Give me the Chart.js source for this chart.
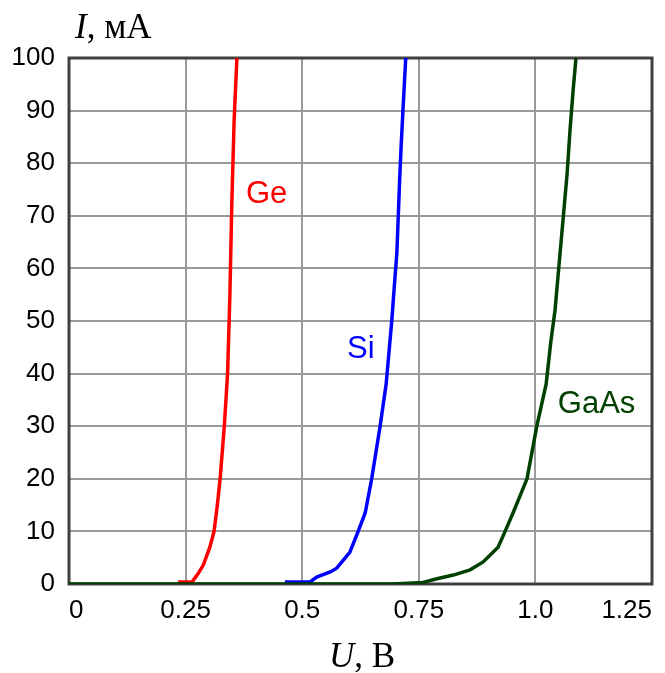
<!DOCTYPE html>
<html>
<head>
<meta charset="utf-8">
<script src="https://cdn.jsdelivr.net/npm/chart.js@4"></script>
<style>
  body { margin: 0; background: #fff; }
  #wrap { width: 665px; height: 673px; }
</style>
</head>
<body>
<div id="wrap"><canvas id="ivChart" width="665" height="673"></canvas></div>
<script>
// Diode forward I-V curves
const xTickLabels = ['0', '0.25', '0.5', '0.75', '1.0', '1.25'];

const geU = [0.234, 0.264, 0.277, 0.288, 0.302, 0.311, 0.318, 0.324, 0.333, 0.340, 0.345, 0.349, 0.354, 0.360];
const geI = [0.4, 0.4, 2.0, 3.6, 7.0, 10, 15, 20, 30, 40, 55, 72, 88, 100];

const siU = [0.463, 0.517, 0.531, 0.560, 0.574, 0.602, 0.620, 0.635, 0.649, 0.667, 0.680, 0.686, 0.692, 0.697, 0.703, 0.706, 0.709, 0.712, 0.716, 0.722];
const siI = [0.4, 0.4, 1.3, 2.3, 3.0, 6.0, 10, 13.5, 20, 30, 38, 44, 50, 56, 63, 70, 77, 83, 90, 100];

const gaasU = [0, 0.695, 0.759, 0.789, 0.824, 0.860, 0.888, 0.920, 0.935, 0.952, 0.982, 1.003, 1.023, 1.033, 1.042, 1.050, 1.060, 1.068, 1.074, 1.081, 1.087];
const gaasI = [0, 0, 0.3, 1.0, 1.7, 2.7, 4.2, 7.0, 10, 13.5, 20, 30, 38, 46, 52, 60, 70, 78, 86, 94, 100];

// curve names and where they sit (data coords: left edge, baseline)
const curveNames = ['Ge', 'Si', 'GaAs'];
const nameU = [0.3795, 0.596, 1.048];
const nameI = [72.4, 43.0, 32.5];

const curveColors = ['#ff0000', '#0000ff', '#004000'];

function toPoints(us, is) {
    return us.map((u, i) => ({ x: u, y: is[i] }));
}

// frame round the plot area, drawn under the curves
const framePlugin = {
    id: 'frame',
    beforeDatasetsDraw(chart) {
        const { ctx, chartArea: a } = chart;
        ctx.save();
        ctx.strokeStyle = '#404040';
        ctx.lineWidth = 3;
        ctx.strokeRect(a.left, a.top, a.right - a.left, a.bottom - a.top);
        ctx.restore();
    }
};

// axis titles and curve names
const textPlugin = {
    id: 'texts',
    afterDraw(chart) {
        const ctx = chart.ctx;
        const xs = chart.scales.x, ys = chart.scales.y;
        const serif = '"Liberation Serif", "Times New Roman", serif';
        ctx.save();
        ctx.fillStyle = '#000';
        ctx.textBaseline = 'alphabetic';
        ctx.textAlign = 'left';

        // I, мА
        ctx.font = 'italic 35px ' + serif;
        ctx.fillText('I', 75, 38);
        let w = ctx.measureText('I').width;
        ctx.font = '35px ' + serif;
        ctx.fillText(', мА', 75 + w, 38);

        // U, В
        ctx.font = 'italic 35px ' + serif;
        ctx.fillText('U', 329, 667);
        w = ctx.measureText('U').width;
        ctx.font = '35px ' + serif;
        ctx.fillText(', В', 329 + w, 667);

        ctx.font = '31px "Liberation Sans", Arial, sans-serif';
        curveNames.forEach((name, i) => {
            ctx.fillStyle = curveColors[i];
            ctx.fillText(name, xs.getPixelForValue(nameU[i]), ys.getPixelForValue(nameI[i]));
        });
        ctx.restore();
    }
};

document.addEventListener('DOMContentLoaded', function() {
    const ctx = document.getElementById('ivChart').getContext('2d');
    new Chart(ctx, {
        type: 'line',
        data: {
            datasets: [
                { label: 'Ge', data: toPoints(geU, geI), borderColor: curveColors[0], order: 2 },
                { label: 'Si', data: toPoints(siU, siI), borderColor: curveColors[1], order: 2 },
                { label: 'GaAs', data: toPoints(gaasU, gaasI), borderColor: curveColors[2], order: 1 }
            ]
        },
        options: {
            responsive: false,
            animation: false,
            devicePixelRatio: 1,
            layout: { padding: { left: 0, right: 13, top: 58, bottom: 0 } },
            elements: {
                line: { borderWidth: 3.5, tension: 0, fill: false },
                point: { radius: 0 }
            },
            plugins: {
                legend: { display: false },
                tooltip: { enabled: false }
            },
            scales: {
                x: {
                    type: 'linear',
                    min: 0,
                    max: 1.25,
                    afterFit: s => { s.height = 89; },
                    ticks: {
                        stepSize: 0.25,
                        align: 'inner',
                        padding: 11,
                        color: '#000',
                        font: { family: '"Liberation Sans", Arial, sans-serif', size: 26 },
                        callback: (v, i) => xTickLabels[i]
                    },
                    grid: { color: '#999', lineWidth: 2, drawTicks: false },
                    border: { display: false }
                },
                y: {
                    min: 0,
                    max: 100,
                    afterFit: s => { s.width = 69; },
                    ticks: {
                        stepSize: 10,
                        padding: 14,
                        color: '#000',
                        font: { family: '"Liberation Sans", Arial, sans-serif', size: 26 }
                    },
                    grid: { color: '#999', lineWidth: 2, drawTicks: false },
                    border: { display: false }
                }
            }
        },
        plugins: [framePlugin, textPlugin]
    });
});
</script>
</body>
</html>
